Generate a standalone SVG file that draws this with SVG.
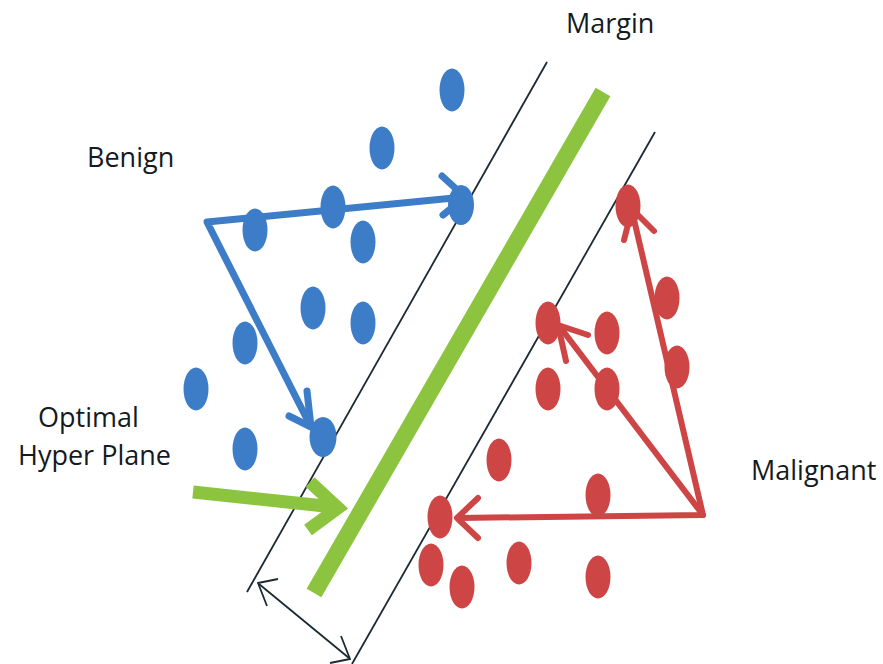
<svg xmlns="http://www.w3.org/2000/svg" width="883" height="664" viewBox="0 0 883 664">
<style>
.lbl{font-family:"Open Sans","Liberation Sans",sans-serif;font-size:27px;fill:#141a1f}
.b{fill:#3d7dc8}
.r{fill:#cd4545}
.bs{fill:none;stroke:#3d7dc8;stroke-width:7;stroke-linejoin:round;stroke-linecap:round}
.rs{fill:none;stroke:#cd4545;stroke-width:6;stroke-linejoin:round;stroke-linecap:round}
.gs{fill:none;stroke:#8dc43f;stroke-width:13;stroke-linejoin:miter}
.ks{fill:none;stroke:#1c2a33;stroke-width:1.8}
</style>
<rect width="883" height="664" fill="#ffffff"/>
<g id="margin-lines">
<line class="ks" x1="547" y1="62" x2="247" y2="592"/>
<line class="ks" x1="655" y1="132" x2="352" y2="664"/>
</g>
<g id="hyperplane">
<line x1="603" y1="92" x2="314" y2="593" stroke="#8dc43f" stroke-width="17"/>
</g>
<g id="benign-points">
<ellipse class="b" cx="452" cy="90" rx="12.5" ry="21.5"/>
<ellipse class="b" cx="382" cy="148" rx="12.5" ry="21.5"/>
<ellipse class="b" cx="333" cy="207" rx="12.5" ry="21.5"/>
<ellipse class="b" cx="255" cy="230" rx="12.5" ry="21.5"/>
<ellipse class="b" cx="363" cy="242" rx="12.5" ry="21.5"/>
<ellipse class="b" cx="461" cy="205" rx="13" ry="20"/>
<ellipse class="b" cx="313" cy="308" rx="12.5" ry="21.5"/>
<ellipse class="b" cx="363" cy="323" rx="12.5" ry="21.5"/>
<ellipse class="b" cx="245" cy="343" rx="12.5" ry="21.5"/>
<ellipse class="b" cx="196" cy="389" rx="12.5" ry="21.5"/>
<ellipse class="b" cx="323" cy="437" rx="13.5" ry="20"/>
<ellipse class="b" cx="245" cy="449" rx="12.5" ry="21.5"/>
</g>
<g id="malignant-points">
<ellipse class="r" cx="628" cy="206" rx="12.5" ry="21.5"/>
<ellipse class="r" cx="667" cy="298" rx="12.5" ry="21.5"/>
<ellipse class="r" cx="677" cy="367" rx="12.5" ry="21.5"/>
<ellipse class="r" cx="548" cy="323" rx="12.5" ry="21.5"/>
<ellipse class="r" cx="607" cy="333" rx="12.5" ry="21.5"/>
<ellipse class="r" cx="548" cy="389" rx="12.5" ry="21.5"/>
<ellipse class="r" cx="607" cy="389" rx="12.5" ry="21.5"/>
<ellipse class="r" cx="499" cy="460" rx="12.5" ry="21.5"/>
<ellipse class="r" cx="598" cy="495" rx="12.5" ry="21.5"/>
<ellipse class="r" cx="440" cy="517" rx="12.5" ry="21.5"/>
<ellipse class="r" cx="431" cy="565" rx="12.5" ry="21.5"/>
<ellipse class="r" cx="462" cy="587" rx="12.5" ry="21.5"/>
<ellipse class="r" cx="519" cy="563" rx="12.5" ry="21.5"/>
<ellipse class="r" cx="598" cy="577" rx="12.5" ry="21.5"/>
</g>
<g id="connectors">
<polyline class="bs" points="464,197 207,222 310,425" stroke-linejoin="miter"/>
<polyline class="bs" points="442,176 465,197 443,215"/>
<polyline class="bs" points="307,391 311,427 289,416"/>
<polyline class="rs" points="459,518 703,515 632,211" stroke-linejoin="miter"/>
<line class="rs" x1="703" y1="515" x2="560" y2="327"/>
<polyline class="rs" points="478,498 457,518 478,538"/>
<polyline class="rs" points="624,240 632,209 654,231"/>
<polyline class="rs" points="566,361 558,325 588,335"/>
<line class="gs" x1="193" y1="492" x2="334" y2="507"/>
<polyline class="gs" points="310,482 338,508 308,530"/>
<line class="ks" x1="259" y1="584" x2="349" y2="658"/>
<polyline class="ks" points="278,579 258,583 267,606"/>
<polyline class="ks" points="341,636 350,659 330,663"/>
</g>
<g id="labels">
<text class="lbl" x="566" y="33">Margin</text>
<text class="lbl" x="87" y="167">Benign</text>
<text class="lbl" x="38" y="427">Optimal</text>
<text class="lbl" x="18" y="465">Hyper Plane</text>
<text class="lbl" x="751" y="480">Malignant</text>
</g>
</svg>
